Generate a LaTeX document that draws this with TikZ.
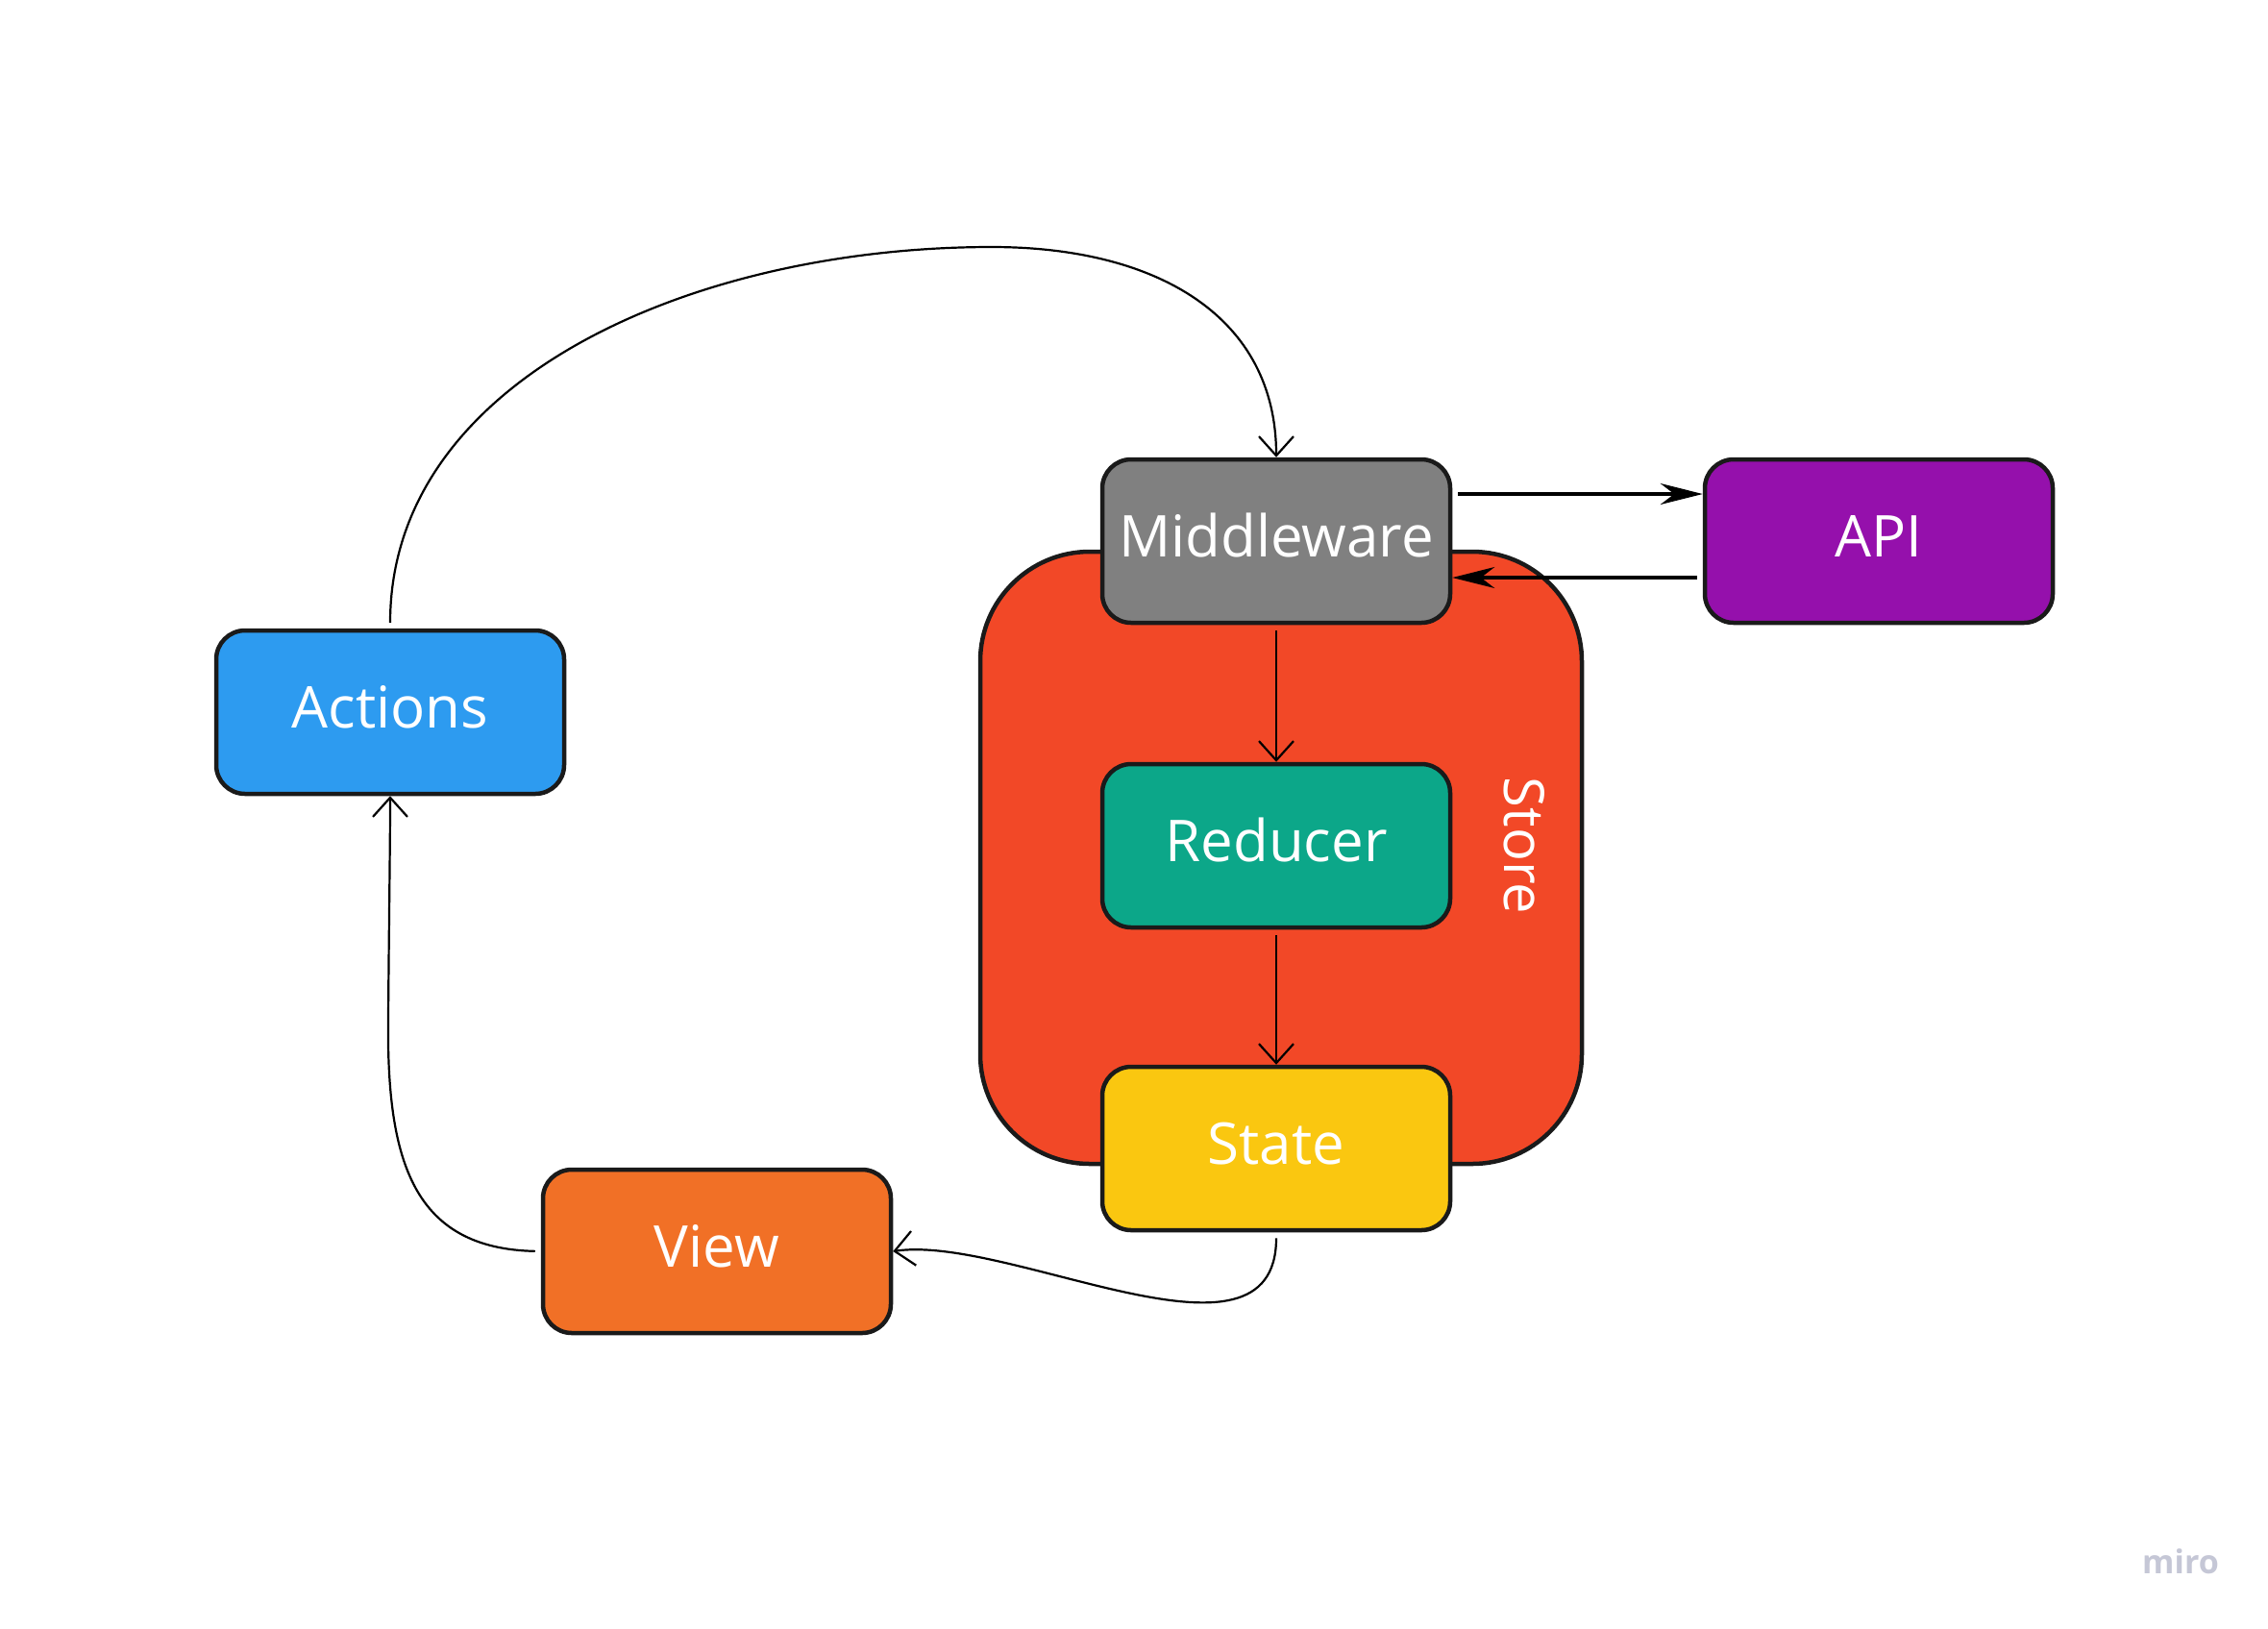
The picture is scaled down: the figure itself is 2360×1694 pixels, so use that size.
\documentclass[tikz,border=0pt]{standalone}
\usepackage{fontspec}
\setmainfont{Open Sans}
\usetikzlibrary{arrows.meta}
\definecolor{actblue}{HTML}{2D9BF0}
\definecolor{midgray}{HTML}{808080}
\definecolor{apipurple}{HTML}{9510AC}
\definecolor{redteal}{HTML}{0CA789}
\definecolor{stateyellow}{HTML}{FAC710}
\definecolor{vieworange}{HTML}{F17026}
\definecolor{storered}{HTML}{F24827}
\definecolor{bordergray}{HTML}{1A1A1A}
\definecolor{mirogray}{HTML}{C5C7D6}
\begin{document}
\begin{tikzpicture}[x=0.5pt,y=-0.5pt,
  box/.style={draw=bordergray, line width=2.25pt, rounded corners=15pt,
    minimum width=181pt, minimum height=85pt, inner sep=0pt,
    text height=21.5pt, text depth=5pt,
    text=white, font=\fontsize{30}{36}\selectfont},
  storebox/.style={draw=bordergray, line width=2.25pt, fill=storered, rounded corners=57pt},
  conn/.style={line width=1.1pt, -{Straight Barb[length=10pt,width=18pt,line width=1.1pt]}},
  apiarrow/.style={line width=1.6pt, -{Stealth[length=22pt,width=11pt]}},
]
\useasboundingbox (0,0) rectangle (2360,1694);
\fill[white] (0,0) rectangle (2360,1694);
% store container
\draw[storebox] (1020,574) rectangle (1646,1211);
\node[rotate=-90, text=white, font=\fontsize{29}{35}\selectfont] (storelbl) at (1586,880) {Store};
% boxes
\node[box, fill=actblue] (act) at (406,741) {Actions};
\node[box, fill=midgray] (mid) at (1328,563) {Middleware};
\node[box, fill=apipurple] (api) at (1955,563) {API};
\node[box, fill=redteal] (red) at (1328,880) {Reducer};
\node[box, fill=stateyellow] (state) at (1328,1195) {State};
\node[box, fill=vieworange] (view) at (746,1302) {View};
% watermark
\node[text=mirogray, font=\fontsize{17}{20}\selectfont\bfseries] (miro) at (2269,1625) {miro};
% connectors
\draw[conn, shorten <=3pt] (act.north) .. controls +(0,-260) and +(-310,0) .. (1032,257)
  .. controls +(174,0) and +(0,-145) .. (mid.north);
\draw[conn, shorten <=3pt] (mid.south) -- (red.north);
\draw[conn, shorten <=3pt] (red.south) -- (state.north);
\draw[conn, shorten <=3pt] (state.south) .. controls +(0,158) and +(121,-18) .. (view.east);
\draw[conn, shorten <=3pt] (view.west) .. controls +(-132,-3) and +(-2,151) .. (404,1059)
  .. controls +(1,-121) and +(0,49) .. (act.south);
\draw[apiarrow, shorten <=3pt] ([yshift=24.5pt]mid.east) -- ([yshift=24.5pt]api.west);
\draw[apiarrow, shorten <=3pt] ([yshift=-19pt]api.west) -- ([yshift=-19pt]mid.east);
\end{tikzpicture}
\end{document}
